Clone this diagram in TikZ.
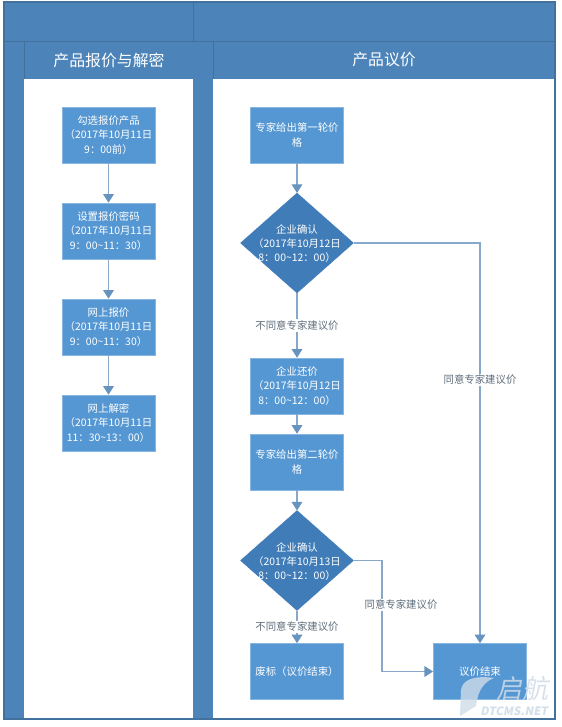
\documentclass[tikz,border=0pt]{standalone}
\usepackage{fontspec}
\setmainfont{Noto Sans CJK SC}
\usetikzlibrary{arrows.meta,shapes.geometric}
\definecolor{hdr}{HTML}{4C84B9}
\definecolor{edge}{HTML}{41719C}
\definecolor{boxc}{HTML}{5597D3}
\definecolor{dia}{HTML}{3F7CB8}
\definecolor{conn}{HTML}{86A8CB}
\definecolor{arrowc}{HTML}{6794BF}
\definecolor{wmark}{HTML}{CFDCE8}
\definecolor{lbltext}{HTML}{5F6E7C}
\newcommand{\dtext}[1]{\smash{\makebox[0pt]{\raisebox{-3.4pt}{$\vcenter{\hbox{\begin{tabular}{@{}c@{}}#1\end{tabular}}}$}}}}
\tikzset{
 band/.style={fill=hdr,draw=edge,line width=0.6pt},
 stepbox/.style={fill=boxc,draw=boxc!70!white,line width=0.4pt,minimum width=70pt,minimum height=42pt,inner sep=0pt,text=white,font=\fontsize{7.8pt}{10.6pt}\selectfont,align=center},
 decision/.style={diamond,fill=dia,draw=dia,line width=0.2pt,inner sep=0pt,outer sep=0pt,minimum width=84.75pt,minimum height=75pt,text=white,font=\fontsize{7.8pt}{10.6pt}\selectfont},
 title/.style={text=white,font=\fontsize{11.9pt}{14pt}\selectfont},
 lbl/.style={fill=white,inner sep=1pt,text=lbltext,font=\fontsize{7.8pt}{9pt}\selectfont},
 flow/.style={draw=conn,line width=1pt,-{Triangle[length=6.5pt,width=8pt,color=arrowc]}},
 wm/.style={text=wmark,inner sep=0pt,xslant=0.2},
}
\begin{document}
\begin{tikzpicture}[x=0.75pt,y=-0.75pt]
\useasboundingbox (0,0) rectangle (561,727);
\fill[white] (0,0) rectangle (561,727);
% pool and lanes
\filldraw[band] (4,2) rectangle (555,719);
\fill[white] (24,79) rectangle (193,719);
\fill[white] (213,79) rectangle (555,719);
\draw[edge,line width=0.6pt] (193,2) -- (193,41);
\draw[edge,line width=0.6pt] (4,41) -- (555,41);
\draw[edge,line width=0.6pt] (24,41) -- (24,79);
\draw[edge,line width=0.6pt] (213,41) -- (213,79);
\draw[edge,line width=0.8pt] (555,2) -- (555,719) -- (4,719) -- (4,2) -- cycle;
\node[title] (t1) at (109,60) {产品报价与解密};
\node[title] (t2) at (384,60) {产品议价};
% left lane
\node[stepbox] (a1) at (108.5,135) {勾选报价产品\\（2017年10月11日\\9：00前）};
\node[stepbox] (a2) at (108.5,231) {设置报价密码\\（2017年10月11日\\9：00\textasciitilde 11：30）};
\node[stepbox] (a3) at (108.5,327) {网上报价\\（2017年10月11日\\9：00\textasciitilde 11：30）};
\node[stepbox] (a4) at (108.5,423) {网上解密\\（2017年10月11日\\11：30\textasciitilde 13：00）};
\draw[flow] (a1) -- (a2);
\draw[flow] (a2) -- (a3);
\draw[flow] (a3) -- (a4);
% right lane
\node[stepbox] (b1) at (297,135) {专家给出第一轮价\\格};
\node[decision] (d1) at (297,243) {\dtext{企业确认\\（2017年10月12日\\8：00\textasciitilde 12：00）}};
\node[stepbox] (b2) at (297,386) {企业还价\\（2017年10月12日\\8：00\textasciitilde 12：00）};
\node[stepbox] (b3) at (297,462) {专家给出第二轮价\\格};
\node[decision] (d2) at (297,560.5) {\dtext{企业确认\\（2017年10月13日\\8：00\textasciitilde 12：00）}};
\node[stepbox] (b4) at (297,671.5) {废标（议价结束）};
\node[stepbox] (b5) at (480,671.5) {议价结束};
\coordinate (c1) at (382,560.5);
\coordinate (c2) at (382,671.5);
\draw[flow] (b1) -- (d1);
\draw[flow] (d1) -- node[lbl,pos=0.5] (l1) {不同意专家建议价} (b2);
\draw[flow] (b2) -- (b3);
\draw[flow] (b3) -- (d2);
\draw[flow] (d2) -- node[lbl,pos=0.5] (l2) {不同意专家建议价} (b4);
\draw[flow] (d1) -| node[lbl,pos=0.671] (l3) {同意专家建议价} (b5);
\draw[flow] (d2) -- (c1) -- (c2) -- (b5);
\node[lbl] (l4) at (401,605) {同意专家建议价};
% watermark
\fill[wmark,opacity=0.8] (460,716) -- (461,690) .. controls (462,680) and (474,675) .. (494,678) .. controls (484,682) and (478,690) .. (476,706) -- cycle;
\node[wm,font=\fontsize{19.5pt}{20pt}\selectfont,opacity=0.85] (w1) at (524,689) {启航};
\node[wm,font=\fontsize{8.6pt}{9pt}\selectfont\bfseries,opacity=0.9] (w2) at (515,711) {DTCMS.NET};
\end{tikzpicture}
\end{document}
